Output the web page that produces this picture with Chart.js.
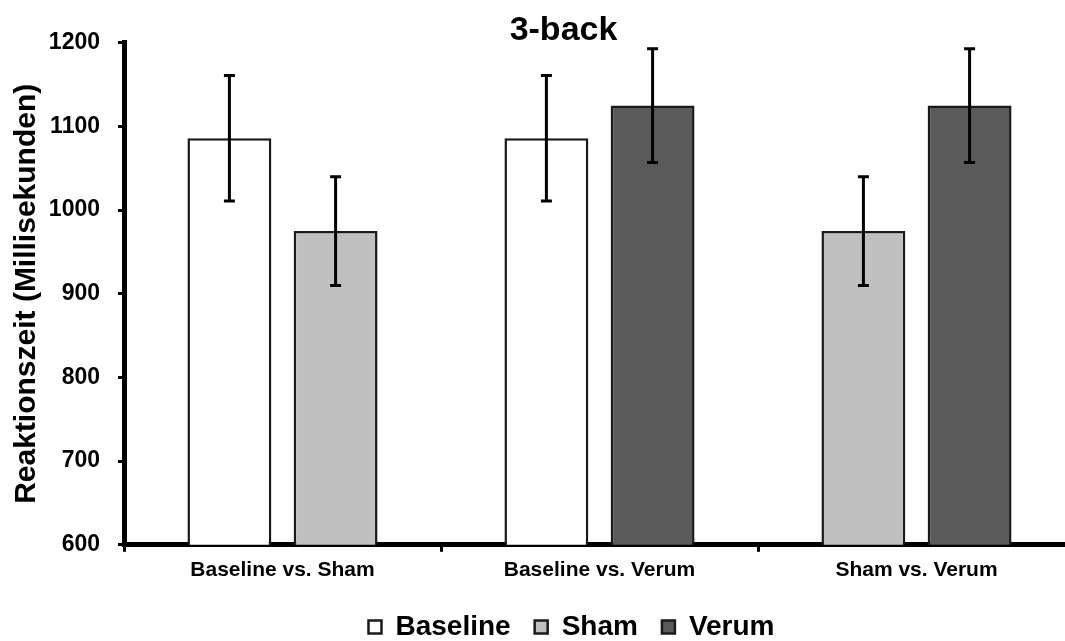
<!DOCTYPE html>
<html>
<head>
<meta charset="utf-8">
<title>3-back</title>
<script src="https://cdn.jsdelivr.net/npm/chart.js"></script>
<style>
  body { margin: 0; overflow: hidden; background: #fff; }
  #wrap { width: 1065px; height: 641px; overflow: hidden; }
</style>
</head>
<body>
<div id="wrap"><canvas id="rtChart" width="1090" height="651"></canvas></div>
<script>
// values (ms)
const categories = ['Baseline vs. Sham', 'Baseline vs. Verum', 'Sham vs. Verum'];
const baseline = [1086, 1086, null];
const baselineErr = [75, 75, null];
const sham = [975, null, 975];
const shamErr = [65, null, 65];
const verum = [null, 1125, 1125];
const verumErr = [null, 68, 68];
const yTicks = [600, 700, 800, 900, 1000, 1100, 1200];

const FONT = "'Liberation Sans', Arial, sans-serif";

// draws the black error bars on top of the bars
const errorBars = {
  id: 'errorBars',
  afterDatasetsDraw(chart) {
    const ctx = chart.ctx;
    const yScale = chart.scales.y;
    ctx.save();
    ctx.strokeStyle = '#000';
    ctx.lineWidth = 3;
    chart.data.datasets.forEach((ds, i) => {
      const meta = chart.getDatasetMeta(i);
      meta.data.forEach((bar, j) => {
        const v = ds.data[j], e = ds.errors[j];
        if (v == null || e == null) return;
        const top = yScale.getPixelForValue(v + e);
        const bot = yScale.getPixelForValue(v - e);
        ctx.beginPath();
        ctx.moveTo(bar.x, top); ctx.lineTo(bar.x, bot);
        ctx.moveTo(bar.x - 5.5, top); ctx.lineTo(bar.x + 5.5, top);
        ctx.moveTo(bar.x - 5.5, bot); ctx.lineTo(bar.x + 5.5, bot);
        ctx.stroke();
      });
    });
    ctx.restore();
  }
};

// title and legend in the original sit a bit right of the canvas centre
const nudge = {
  id: 'nudge',
  afterLayout(chart) {
    chart.titleBlock.left += 26; chart.titleBlock.right += 26;
    chart.legend.left += 34; chart.legend.right += 34;
  }
};

new Chart(document.getElementById('rtChart'), {
  type: 'bar',
  data: {
    labels: categories,
    datasets: [{
      label: 'Baseline',
      data: baseline,
      errors: baselineErr,
      backgroundColor: '#ffffff',
      borderColor: '#1a1a1a',
      borderWidth: 2.5
    }, {
      label: 'Sham',
      data: sham,
      errors: shamErr,
      backgroundColor: '#c0c0c0',
      borderColor: '#1a1a1a',
      borderWidth: 2.5
    }, {
      label: 'Verum',
      data: verum,
      errors: verumErr,
      backgroundColor: '#5a5a5a',
      borderColor: '#1a1a1a',
      borderWidth: 2.5
    }]
  },
  options: {
    responsive: false,
    animation: false,
    skipNull: true,
    categoryPercentage: 0.67,
    barPercentage: 0.79,
    layout: { padding: { right: 15 } },
    plugins: {
      title: {
        display: true,
        text: '3-back',
        color: '#000',
        font: { family: FONT, size: 34, weight: 'bold', lineHeight: 0.7 },
        padding: { top: 19, bottom: 0 }
      },
      legend: {
        position: 'bottom',
        labels: {
          color: '#000',
          font: { family: FONT, size: 28, weight: 'bold' },
          boxWidth: 13,
          boxHeight: 13,
          padding: 24
        }
      },
      tooltip: { enabled: false }
    },
    scales: {
      x: {
        border: { color: '#000', width: 5 },
        grid: { drawOnChartArea: false, tickLength: 7, tickWidth: 3, tickColor: '#000' },
        ticks: { color: '#000', padding: 6, font: { family: FONT, size: 21, weight: 'bold' } }
      },
      y: {
        min: yTicks[0],
        max: yTicks[yTicks.length - 1],
        afterFit(scale) { scale.width = 124; },
        border: { color: '#000', width: 5 },
        grid: { drawOnChartArea: false, tickLength: 6, tickWidth: 3, tickColor: '#000' },
        ticks: {
          stepSize: yTicks[1] - yTicks[0],
          callback: v => String(v),
          color: '#000',
          padding: 18,
          font: { family: FONT, size: 23, weight: 'bold' }
        },
        title: {
          display: true,
          text: 'Reaktionszeit (Millisekunden)',
          color: '#000',
          font: { family: FONT, size: 30, weight: 'bold' },
          padding: { top: 9, bottom: 3 }
        }
      }
    }
  },
  plugins: [errorBars, nudge]
});
</script>
</body>
</html>
